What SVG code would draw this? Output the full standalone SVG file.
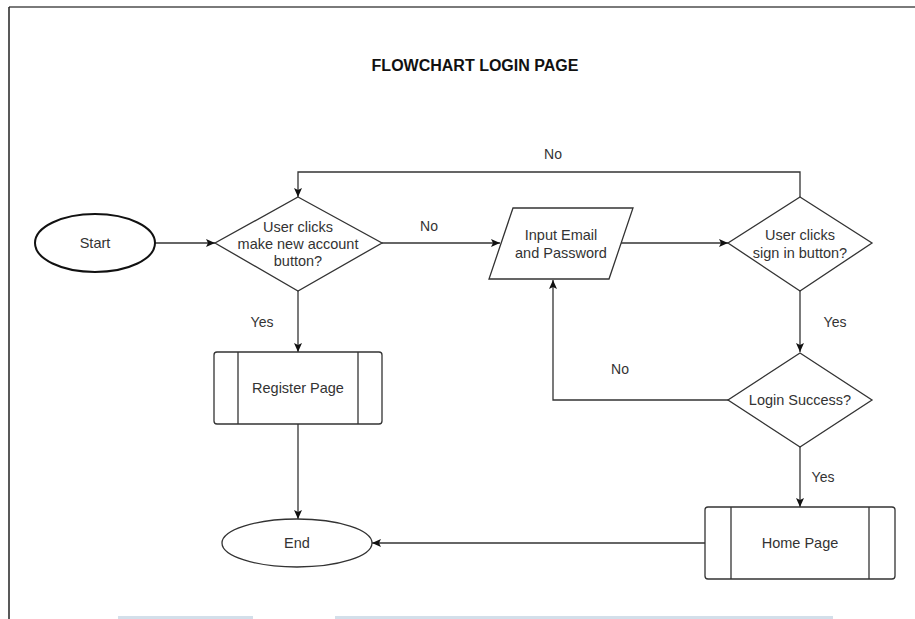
<svg xmlns="http://www.w3.org/2000/svg" width="915" height="619" viewBox="0 0 915 619">
  <style>
    .shape { fill: #ffffff; stroke: #333333; stroke-width: 1.3; }
    .terminal-bold { fill: #ffffff; stroke: #111111; stroke-width: 2; }
    .bar { fill: none; stroke: #333333; stroke-width: 1.3; }
    .edge { fill: none; stroke: #333333; stroke-width: 1.3; marker-end: url(#arrow); }
    .label { font-family: "Liberation Sans", Arial, sans-serif; font-size: 14.5px; fill: #333333; text-anchor: middle; }
    .edge-label { font-family: "Liberation Sans", Arial, sans-serif; font-size: 14px; fill: #333333; text-anchor: middle; }
    .title { font-family: "Liberation Sans", Arial, sans-serif; font-size: 16px; font-weight: bold; fill: #111111; text-anchor: middle; }
  </style>
  <defs>
    <marker id="arrow" markerUnits="userSpaceOnUse" markerWidth="10" markerHeight="10" refX="9" refY="4" orient="auto">
      <path d="M0,0 L9,4 L0,8 L2,4 z" fill="#111111"/>
    </marker>
  </defs>

  <rect width="915" height="619" fill="#ffffff"/>

  <!-- page frame -->
  <line x1="9" y1="7" x2="915" y2="7" stroke="#7a7a7a" stroke-width="2"/>
  <line x1="9" y1="7" x2="9" y2="619" stroke="#222222" stroke-width="1.5"/>
  <rect x="118" y="616" width="135" height="3" fill="#d3dfea"/>
  <rect x="335" y="616" width="498" height="3" fill="#d3dfea"/>

  <text class="title" x="475" y="71">FLOWCHART LOGIN PAGE</text>

  <!-- connectors -->
  <g id="connectors">
    <path class="edge" d="M155,243 H215"/>
    <path class="edge" d="M382,243 H500"/>
    <path class="edge" d="M621,243 H728"/>
    <path class="edge" d="M800,197 V172 H298 V197"/>
    <path class="edge" d="M800,291 V352"/>
    <path class="edge" d="M728,400 H553 V280"/>
    <path class="edge" d="M800,447 V507"/>
    <path class="edge" d="M705,543 H372"/>
    <path class="edge" d="M298,291 V352"/>
    <path class="edge" d="M298,424 V519"/>
    <text class="edge-label" x="429" y="231">No</text>
    <text class="edge-label" x="553" y="159">No</text>
    <text class="edge-label" x="262" y="327">Yes</text>
    <text class="edge-label" x="835" y="327">Yes</text>
    <text class="edge-label" x="620" y="374">No</text>
    <text class="edge-label" x="823" y="482">Yes</text>
  </g>

  <!-- nodes -->
  <g id="start">
    <ellipse class="terminal-bold" cx="95" cy="243" rx="60" ry="29"/>
    <text class="label" x="95" y="248">Start</text>
  </g>

  <g id="decision-new-account">
    <polygon class="shape" points="298,197 382,243 298,291 215,243"/>
    <text class="label" x="298" y="232">User clicks</text>
    <text class="label" x="298" y="249">make new account</text>
    <text class="label" x="298" y="266">button?</text>
  </g>

  <g id="input-credentials">
    <polygon class="shape" points="513,208 633,208 609,279 489,279"/>
    <text class="label" x="561" y="240">Input Email</text>
    <text class="label" x="561" y="258">and Password</text>
  </g>

  <g id="decision-sign-in">
    <polygon class="shape" points="800,197 872,243 800,291 728,243"/>
    <text class="label" x="800" y="240">User clicks</text>
    <text class="label" x="800" y="258">sign in button?</text>
  </g>

  <g id="decision-login-success">
    <polygon class="shape" points="800,353 872,400 800,447 728,400"/>
    <text class="label" x="800" y="405">Login Success?</text>
  </g>

  <g id="register-page">
    <rect class="shape" x="214" y="352" width="168" height="72" rx="3"/>
    <line class="bar" x1="238" y1="352" x2="238" y2="424"/>
    <line class="bar" x1="358" y1="352" x2="358" y2="424"/>
    <text class="label" x="298" y="393">Register Page</text>
  </g>

  <g id="home-page">
    <rect class="shape" x="705" y="507" width="190" height="72" rx="3"/>
    <line class="bar" x1="731" y1="507" x2="731" y2="579"/>
    <line class="bar" x1="869" y1="507" x2="869" y2="579"/>
    <text class="label" x="800" y="548">Home Page</text>
  </g>

  <g id="end">
    <ellipse class="shape" cx="297" cy="543" rx="75" ry="24"/>
    <text class="label" x="297" y="548">End</text>
  </g>
</svg>
